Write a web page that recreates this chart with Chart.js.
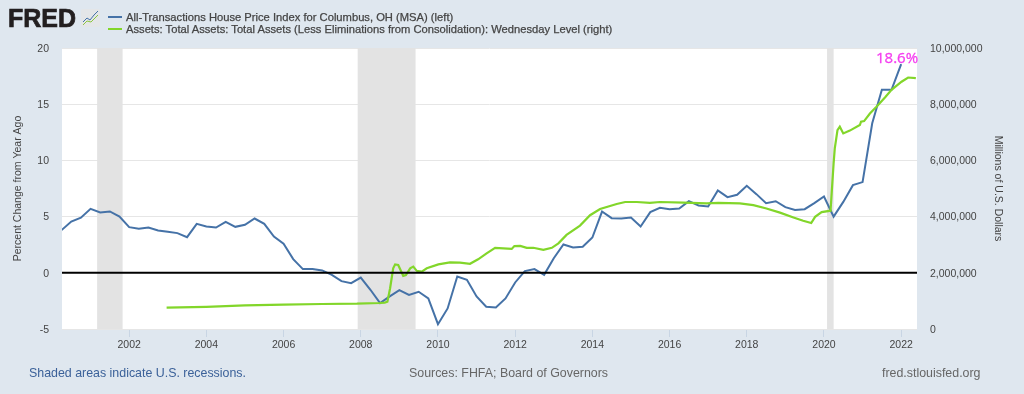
<!DOCTYPE html>
<html>
<head>
<meta charset="utf-8">
<title>FRED chart</title>
<script src="https://cdn.jsdelivr.net/npm/chart.js@4"></script>
<style>
  html, body { margin: 0; padding: 0; background: #dfe7ef; overflow: hidden; }
  #wrap { position: relative; width: 1024px; height: 394px; font-family: "Liberation Sans", Arial, sans-serif; }
  #wrap canvas { position: absolute; left: 0; top: 0; }
  .txt { position: absolute; white-space: nowrap; }
  #logo { left: 8px; top: 4px; font-size: 25px; font-weight: bold; color: #231f20; -webkit-text-stroke: 0.7px #231f20; }
  #icon { position: absolute; left: 81px; top: 9px; }
  .swatch { position: absolute; left: 108px; width: 14px; height: 2px; }
  .legend { left: 126px; font-size: 11.2px; color: #444; -webkit-text-stroke: 0.25px #444; }
  .foot { top: 366px; font-size: 12.4px; color: #666; }
  #pct { left: 876px; top: 47px; font-family: "Open Sans", sans-serif; font-size: 15px; color: #f53ff0; -webkit-text-stroke: 0.3px #f53ff0; }
</style>
</head>
<body>
<div id="wrap">
  <canvas id="chart" width="1024" height="394"></canvas>
  <div class="txt" id="logo">FRED</div>
  <svg id="icon" width="19" height="18" viewBox="0 0 19 18">
    <rect width="19" height="18" rx="2" fill="#e4e6e8"/>
    <polyline points="2,13 6,9 9,11 13,6 17,2" fill="none" stroke="#4572a7" stroke-width="1"/>
    <polyline points="2,16 6,12 10,13 14,9 17,6" fill="none" stroke="#8cc63f" stroke-width="1"/>
  </svg>
  <div class="swatch" style="top:16px;background:#4572a7"></div>
  <div class="swatch" style="top:28px;background:#82d62a"></div>
  <div class="txt legend" style="top:11px">All-Transactions House Price Index for Columbus, OH (MSA) (left)</div>
  <div class="txt legend" style="top:23px">Assets: Total Assets: Total Assets (Less Eliminations from Consolidation): Wednesday Level (right)</div>
  <div class="txt" id="pct">18.6%</div>
  <div class="txt foot" style="left:29px;color:#3b6199">Shaded areas indicate U.S. recessions.</div>
  <div class="txt foot" style="left:409px">Sources: FHFA; Board of Governors</div>
  <div class="txt foot" style="left:882px">fred.stlouisfed.org</div>
</div>

<script>
/* ================= DATA ================= */

// quarterly, decimal years
const houseDates = [
  2000.25, 2000.5, 2000.75, 2001, 2001.25, 2001.5, 2001.75, 2002, 2002.25, 2002.5, 2002.75,
  2003, 2003.25, 2003.5, 2003.75, 2004, 2004.25, 2004.5, 2004.75, 2005, 2005.25, 2005.5, 2005.75,
  2006, 2006.25, 2006.5, 2006.75, 2007, 2007.25, 2007.5, 2007.75, 2008, 2008.25, 2008.5, 2008.75,
  2009, 2009.25, 2009.5, 2009.75, 2010, 2010.25, 2010.5, 2010.75, 2011, 2011.25, 2011.5, 2011.75,
  2012, 2012.25, 2012.5, 2012.75, 2013, 2013.25, 2013.5, 2013.75, 2014, 2014.25, 2014.5, 2014.75,
  2015, 2015.25, 2015.5, 2015.75, 2016, 2016.25, 2016.5, 2016.75, 2017, 2017.25, 2017.5, 2017.75,
  2018, 2018.25, 2018.5, 2018.75, 2019, 2019.25, 2019.5, 2019.75, 2020, 2020.25, 2020.5, 2020.75,
  2021, 2021.25, 2021.5, 2021.75, 2022
];
const houseValues = [
  3.8, 4.56, 4.9, 5.69, 5.37, 5.46, 5.0, 4.06, 3.91, 4.03, 3.77,
  3.65, 3.53, 3.17, 4.36, 4.12, 4.03, 4.54, 4.09, 4.27, 4.83, 4.36, 3.23,
  2.58, 1.22, 0.33, 0.33, 0.21, -0.18, -0.74, -0.92, -0.42, -1.51, -2.7, -2.1,
  -1.54, -1.96, -1.69, -2.28, -4.57, -3.17, -0.33, -0.62, -2.11, -3.02, -3.08, -2.28,
  -0.86, 0.15, 0.33, -0.18, 1.3, 2.52, 2.25, 2.31, 3.14, 5.45, 4.86, 4.83,
  4.92, 4.12, 5.4, 5.78, 5.66, 5.72, 6.37, 5.99, 5.9, 7.33, 6.73, 6.94, 7.74,
  7.0, 6.2, 6.37, 5.84, 5.58, 5.66, 6.2, 6.79, 5.0, 6.31, 7.8, 8.07,
  13.3, 16.28, 16.28, 18.57
];

const assetDates = [
  2002.97, 2004, 2005, 2006, 2007, 2007.9, 2008.5, 2008.62, 2008.69, 2008.76, 2008.84, 2008.89,
  2008.97, 2009.03, 2009.1, 2009.17, 2009.28, 2009.36, 2009.45, 2009.58, 2009.71,
  2010.01, 2010.31, 2010.57, 2010.83, 2011.04, 2011.26, 2011.48, 2011.91, 2011.98, 2012.13,
  2012.3, 2012.47, 2012.73, 2012.95, 2013.12, 2013.33, 2013.68, 2013.94, 2014.2, 2014.63,
  2014.85, 2015.15, 2015.49, 2015.75, 2016.36, 2016.96, 2017.26, 2017.82, 2018.17, 2018.51,
  2018.86, 2019.21, 2019.46, 2019.67, 2019.77, 2019.94, 2020.17, 2020.21, 2020.25, 2020.28, 2020.35,
  2020.41, 2020.5, 2020.67, 2020.93, 2020.96, 2021.04, 2021.19, 2021.36, 2021.58, 2021.75,
  2022.01, 2022.18, 2022.38
];
const assetValues = [
  760000, 790000, 840000, 865000, 890000, 900000, 925000, 940000, 970000, 1450000, 2160000, 2300000,
  2280000, 2100000, 1890000, 1920000, 2160000, 2220000, 2070000, 2040000, 2160000,
  2300000, 2370000, 2360000, 2320000, 2480000, 2690000, 2890000, 2850000, 2950000, 2960000,
  2890000, 2890000, 2820000, 2890000, 3050000, 3350000, 3680000, 4050000, 4270000, 4450000,
  4520000, 4520000, 4490000, 4520000, 4500000, 4470000, 4490000, 4470000, 4410000, 4290000,
  4140000, 3970000, 3850000, 3770000, 3990000, 4160000, 4210000, 5060000, 5900000, 6430000, 7080000,
  7200000, 6960000, 7060000, 7260000, 7380000, 7400000, 7670000, 7910000, 8240000, 8510000,
  8800000, 8950000, 8930000
];

const yearTicks = [2002, 2004, 2006, 2008, 2010, 2012, 2014, 2016, 2018, 2020, 2022];
const leftTicks = [-5, 0, 5, 10, 15, 20];
const rightTicks = [0, 2000000, 4000000, 6000000, 8000000, 10000000];
const recessionStarts = [2001.17, 2007.92, 2020.08];
const recessionEnds = [2001.83, 2009.42, 2020.25];
const zeroLine = [0, 0];

const xMin = 2000.26;
const xMax = 2022.41;

/* ================= PLUGINS ================= */

const plotBackground = {
  id: "plotBackground",
  beforeDraw(chart) {
    const a = chart.chartArea;
    chart.ctx.save();
    chart.ctx.fillStyle = "#ffffff";
    chart.ctx.fillRect(a.left, a.top, a.width, a.height);
    chart.ctx.restore();
  },
  beforeDatasetsDraw(chart) {
    const a = chart.chartArea;
    const x = chart.scales.x;
    chart.ctx.save();
    chart.ctx.fillStyle = "#e3e3e3";
    recessionStarts.forEach((start, i) => {
      const x0 = x.getPixelForValue(start);
      const x1 = x.getPixelForValue(recessionEnds[i]);
      chart.ctx.fillRect(x0, a.top, x1 - x0, a.height);
    });
    chart.ctx.restore();
  }
};

/* ================= CHART ================= */

const toPoints = (xs, ys) => xs.map((d, i) => ({ x: d, y: ys[i] }));
const tickFont = { family: "'Liberation Sans', Arial, sans-serif", size: 10.5 };

new Chart(document.getElementById("chart"), {
  type: "line",
  data: {
    datasets: [
      {
        label: "Zero",
        data: toPoints([xMin, xMax], zeroLine),
        yAxisID: "y",
        borderColor: "#000000",
        borderWidth: 2,
        pointRadius: 0,
        order: 0
      },
      {
        label: "All-Transactions House Price Index for Columbus, OH (MSA) (left)",
        data: toPoints(houseDates, houseValues),
        yAxisID: "y",
        borderColor: "#4572a7",
        borderWidth: 2,
        pointRadius: 0,
        tension: 0,
        order: 2
      },
      {
        label: "Assets: Total Assets: Total Assets (Less Eliminations from Consolidation): Wednesday Level (right)",
        data: toPoints(assetDates, assetValues),
        yAxisID: "y1",
        borderColor: "#82d62a",
        borderWidth: 2.2,
        pointRadius: 0,
        tension: 0,
        order: 1
      }
    ]
  },
  options: {
    responsive: false,
    animation: false,
    layout: { padding: { top: 48, left: 12, right: 20, bottom: 0 } },
    plugins: {
      legend: { display: false },
      tooltip: { enabled: false }
    },
    scales: {
      x: {
        type: "linear",
        min: xMin,
        max: xMax,
        afterBuildTicks: s => { s.ticks = yearTicks.map(v => ({ value: v })); },
        afterFit: s => { s.height = 65; },
        border: { display: false },
        grid: { drawOnChartArea: false, color: "#c8d5e4", tickLength: 8 },
        ticks: {
          maxRotation: 0,
          autoSkip: false,
          padding: 2,
          color: "#444",
          font: tickFont,
          callback: v => String(v)
        }
      },
      y: {
        position: "left",
        min: -5,
        max: 20,
        afterBuildTicks: s => { s.ticks = leftTicks.map(v => ({ value: v })); },
        afterFit: s => { s.width = 50; },
        border: { display: false },
        grid: { color: "#e6e6e6", drawTicks: false },
        title: {
          display: true,
          text: "Percent Change from Year Ago",
          color: "#444",
          font: tickFont,
          padding: 0
        },
        ticks: { padding: 13, labelOffset: 1, color: "#444", font: tickFont }
      },
      y1: {
        position: "right",
        min: 0,
        max: 10000000,
        afterBuildTicks: s => { s.ticks = rightTicks.map(v => ({ value: v })); },
        afterFit: s => { s.width = 87; },
        border: { display: false },
        grid: { drawOnChartArea: false, drawTicks: false },
        title: {
          display: true,
          text: "Millions of U.S. Dollars",
          color: "#444",
          font: tickFont,
          padding: 0
        },
        ticks: {
          padding: 13,
          labelOffset: 1,
          color: "#444",
          font: tickFont,
          callback: v => v.toLocaleString("en-US")
        }
      }
    }
  },
  plugins: [plotBackground]
});
</script>
</body>
</html>
